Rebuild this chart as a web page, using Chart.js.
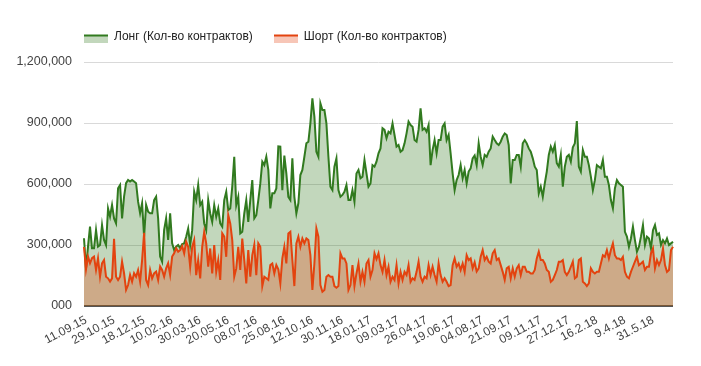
<!DOCTYPE html>
<html>
<head>
<meta charset="utf-8">
<script src="https://cdn.jsdelivr.net/npm/chart.js@4"></script>
<style>
  html, body { margin: 0; padding: 0; background: #fff; }
  #wrap { width: 701px; height: 366px; }
</style>
</head>
<body>
<div id="wrap"><canvas id="myChart" width="701" height="366"></canvas></div>
<script>
// Лонг / Шорт, количество контрактов
const longValues = [
  333000, 185000, 292000, 390000, 284000, 284000, 374000, 292000, 300000, 398000,
  325000, 300000, 480000, 440000, 497000, 431000, 407000, 579000, 595000, 431000,
  538000, 604000, 620000, 612000, 620000, 612000, 604000, 513000, 456000, 505000,
  341000, 497000, 464000, 456000, 456000, 521000, 538000, 431000, 243000, 218000,
  374000, 431000, 325000, 456000, 308000, 275000, 292000, 300000, 285000, 305000,
  308000, 341000, 381000, 300000, 373000, 562000, 521000, 595000, 496000, 513000,
  406000, 373000, 521000, 455000, 414000, 496000, 439000, 480000, 406000, 390000,
  521000, 562000, 472000, 480000, 587000, 734000, 496000, 537000, 357000, 365000,
  455000, 521000, 414000, 521000, 619000, 431000, 447000, 521000, 603000, 710000,
  693000, 734000, 669000, 480000, 554000, 554000, 578000, 785000, 784000, 570000,
  740000, 652000, 537000, 521000, 726000, 537000, 455000, 505000, 644000, 669000,
  734000, 800000, 808000, 898000, 1021000, 931000, 759000, 734000, 997000, 964000,
  964000, 898000, 734000, 587000, 570000, 685000, 726000, 570000, 537000, 546000,
  562000, 595000, 521000, 521000, 570000, 513000, 652000, 669000, 628000, 636000,
  718000, 652000, 587000, 603000, 693000, 685000, 710000, 751000, 775000, 874000,
  866000, 825000, 857000, 849000, 898000, 841000, 784000, 792000, 759000, 767000,
  800000, 849000, 907000, 890000, 882000, 816000, 808000, 866000, 972000, 866000,
  874000, 857000, 890000, 693000, 767000, 816000, 751000, 816000, 816000, 882000,
  898000, 816000, 841000, 751000, 652000, 570000, 619000, 644000, 693000, 628000,
  669000, 603000, 661000, 677000, 726000, 740000, 693000, 800000, 734000, 693000,
  743000, 734000, 759000, 775000, 833000, 816000, 800000, 792000, 808000, 833000,
  849000, 841000, 792000, 603000, 718000, 718000, 743000, 743000, 685000, 800000,
  816000, 800000, 775000, 759000, 726000, 685000, 669000, 554000, 587000, 537000,
  603000, 661000, 743000, 784000, 759000, 792000, 702000, 685000, 743000, 587000,
  685000, 734000, 743000, 710000, 780000, 800000, 910000, 685000, 661000, 767000,
  734000, 734000, 693000, 636000, 570000, 619000, 693000, 685000, 677000, 718000,
  636000, 636000, 595000, 521000, 480000, 578000, 619000, 603000, 595000, 587000,
  365000, 341000, 291000, 332000, 390000, 324000, 267000, 291000, 341000, 398000,
  300000, 341000, 332000, 283000, 373000, 398000, 349000, 357000, 300000, 324000,
  308000, 332000, 300000, 308000, 316000
];

const shortValues = [
  290000, 180000, 243000, 210000, 235000, 243000, 177000, 235000, 144000, 210000,
  226000, 144000, 136000, 120000, 136000, 330000, 144000, 128000, 144000, 218000,
  161000, 79000, 103000, 153000, 120000, 161000, 144000, 177000, 120000, 226000,
  360000, 128000, 103000, 177000, 136000, 161000, 169000, 128000, 194000, 177000,
  144000, 185000, 210000, 153000, 243000, 259000, 284000, 267000, 275000, 295000,
  259000, 316000, 291000, 193000, 291000, 324000, 152000, 226000, 136000, 291000,
  365000, 308000, 193000, 283000, 160000, 300000, 168000, 226000, 128000, 357000,
  341000, 242000, 447000, 406000, 324000, 144000, 185000, 291000, 177000, 332000,
  226000, 111000, 275000, 144000, 250000, 300000, 152000, 308000, 291000, 98000,
  144000, 136000, 128000, 201000, 209000, 160000, 201000, 180000, 111000, 234000,
  291000, 209000, 357000, 365000, 226000, 98000, 308000, 341000, 291000, 332000,
  308000, 332000, 324000, 250000, 79000, 209000, 381000, 341000, 103000, 70000,
  79000, 144000, 152000, 144000, 144000, 98000, 90000, 98000, 259000, 234000,
  234000, 209000, 79000, 103000, 201000, 98000, 160000, 209000, 119000, 168000,
  119000, 209000, 226000, 144000, 177000, 259000, 230000, 259000, 201000, 168000,
  226000, 152000, 193000, 119000, 144000, 128000, 201000, 111000, 168000, 128000,
  168000, 152000, 201000, 119000, 136000, 128000, 168000, 218000, 144000, 119000,
  144000, 136000, 201000, 152000, 193000, 152000, 119000, 209000, 152000, 119000,
  136000, 119000, 98000, 103000, 201000, 234000, 193000, 209000, 177000, 209000,
  168000, 250000, 226000, 234000, 185000, 215000, 170000, 185000, 242000, 275000,
  226000, 242000, 218000, 209000, 259000, 275000, 226000, 234000, 201000, 168000,
  128000, 185000, 193000, 136000, 185000, 144000, 185000, 201000, 152000, 193000,
  193000, 168000, 168000, 160000, 160000, 177000, 234000, 267000, 226000, 226000,
  209000, 177000, 168000, 119000, 128000, 152000, 177000, 218000, 218000, 226000,
  168000, 152000, 168000, 193000, 218000, 136000, 144000, 226000, 234000, 119000,
  111000, 98000, 111000, 185000, 168000, 160000, 168000, 168000, 209000, 250000,
  242000, 275000, 234000, 275000, 308000, 250000, 234000, 234000, 226000, 242000,
  168000, 144000, 136000, 168000, 193000, 218000, 242000, 201000, 209000, 218000,
  177000, 193000, 193000, 259000, 283000, 185000, 226000, 201000, 226000, 283000,
  201000, 168000, 177000, 275000, 291000
];

// даты подписей оси X и номер точки, на которую каждая приходится
const tickDates = ['11.09.15', '29.10.15', '18.12.15', '10.02.16', '30.03.16', '20.05.16', '08.07.16',
  '25.08.16', '12.10.16', '30.11.16', '18.01.17', '09.03.17', '26.04.17', '19.06.17', '04.08.17',
  '21.09.17', '09.11.17', '27.12.17', '16.2.18', '9.4.18', '31.5.18'];
const tickPoints = [1, 15, 30, 44, 58, 72, 86, 100, 114, 129, 143, 157, 171, 185, 199, 213, 228, 242, 256, 270, 284];

const yTickLabels = ['000', '300,000', '600,000', '900,000', '1,200,000'];
const seriesNames = ['Лонг (Кол-во контрактов)', 'Шорт (Кол-во контрактов)'];

const labels = longValues.map((v, i) => {
    const k = tickPoints.indexOf(i);
    return k >= 0 ? tickDates[k] : '';
});

const greenLine = '#317a1f';
const greenFill = 'rgba(52,123,34,0.3)';
const redLine = '#e3430f';
const redFill = 'rgba(227,67,15,0.3)';

function legendIcon(line, fill) {
    const c = document.createElement('canvas');
    c.width = 24;
    c.height = 11;
    const g = c.getContext('2d');
    g.fillStyle = fill;
    g.fillRect(0, 5, 24, 6);
    g.fillStyle = line;
    g.fillRect(0, 3, 24, 2);
    return c;
}
const icons = [legendIcon(greenLine, greenFill), legendIcon(redLine, redFill)];

// легенда начинается над левым краем графика, и под ней немного места
const legendPlace = {
    id: 'legendPlace',
    beforeInit(chart) {
        const fit = chart.legend.fit;
        chart.legend.fit = function () {
            fit.bind(chart.legend)();
            this.height += 9;
        };
    },
    afterLayout(chart) {
        chart.legend.left = chart.chartArea.left - chart.legend.options.labels.padding;
    }
};

const ctx = document.getElementById('myChart');

new Chart(ctx, {
    type: 'line',
    data: {
        labels: labels,
        datasets: [{
            label: seriesNames[0],
            data: longValues,
            borderColor: greenLine,
            backgroundColor: greenFill,
            borderWidth: 2,
            pointRadius: 0,
            fill: 'origin',
            order: 1
        }, {
            label: seriesNames[1],
            data: shortValues,
            borderColor: redLine,
            backgroundColor: redFill,
            borderWidth: 2,
            pointRadius: 0,
            fill: 'origin',
            order: 0
        }]
    },
    options: {
        responsive: false,
        animation: false,
        layout: {
            padding: { left: 0, top: 10, right: 28, bottom: 0 }
        },
        plugins: {
            tooltip: { enabled: false },
            legend: {
                position: 'top',
                align: 'start',
                labels: {
                    usePointStyle: true,
                    pointStyleWidth: 24,
                    padding: 21,
                    color: '#222',
                    font: { family: 'Arial, "Liberation Sans"', size: 12 },
                    sort: (a, b) => a.datasetIndex - b.datasetIndex,
                    generateLabels: (chart) => chart.data.datasets.map((ds, i) => ({
                        text: ds.label,
                        pointStyle: icons[i],
                        fontColor: '#222',
                        datasetIndex: i,
                        hidden: false,
                        lineWidth: 0
                    }))
                }
            }
        },
        scales: {
            x: {
                type: 'category',
                grid: { display: false, drawTicks: false },
                border: { display: false },
                afterFit: (s) => { s.height = 60; },
                ticks: {
                    autoSkip: false,
                    maxRotation: 28,
                    minRotation: 28,
                    padding: 7,
                    color: '#444',
                    font: { family: 'Arial, "Liberation Sans"', size: 12 }
                }
            },
            y: {
                min: 0,
                max: 1200000,
                afterFit: (s) => { s.width = 84; },
                grid: {
                    drawTicks: false,
                    color: (c) => c.tick && c.tick.value === 0 ? '#555' : '#d9d9d9',
                    lineWidth: (c) => c.tick && c.tick.value === 0 ? 2 : 1
                },
                border: { display: false },
                ticks: {
                    stepSize: 300000,
                    padding: 12,
                    color: '#444',
                    font: { family: 'Arial, "Liberation Sans"', size: 12.5 },
                    callback: (value) => yTickLabels[Math.round(value / 300000)]
                }
            }
        }
    },
    plugins: [legendPlace]
});
</script>
</body>
</html>
